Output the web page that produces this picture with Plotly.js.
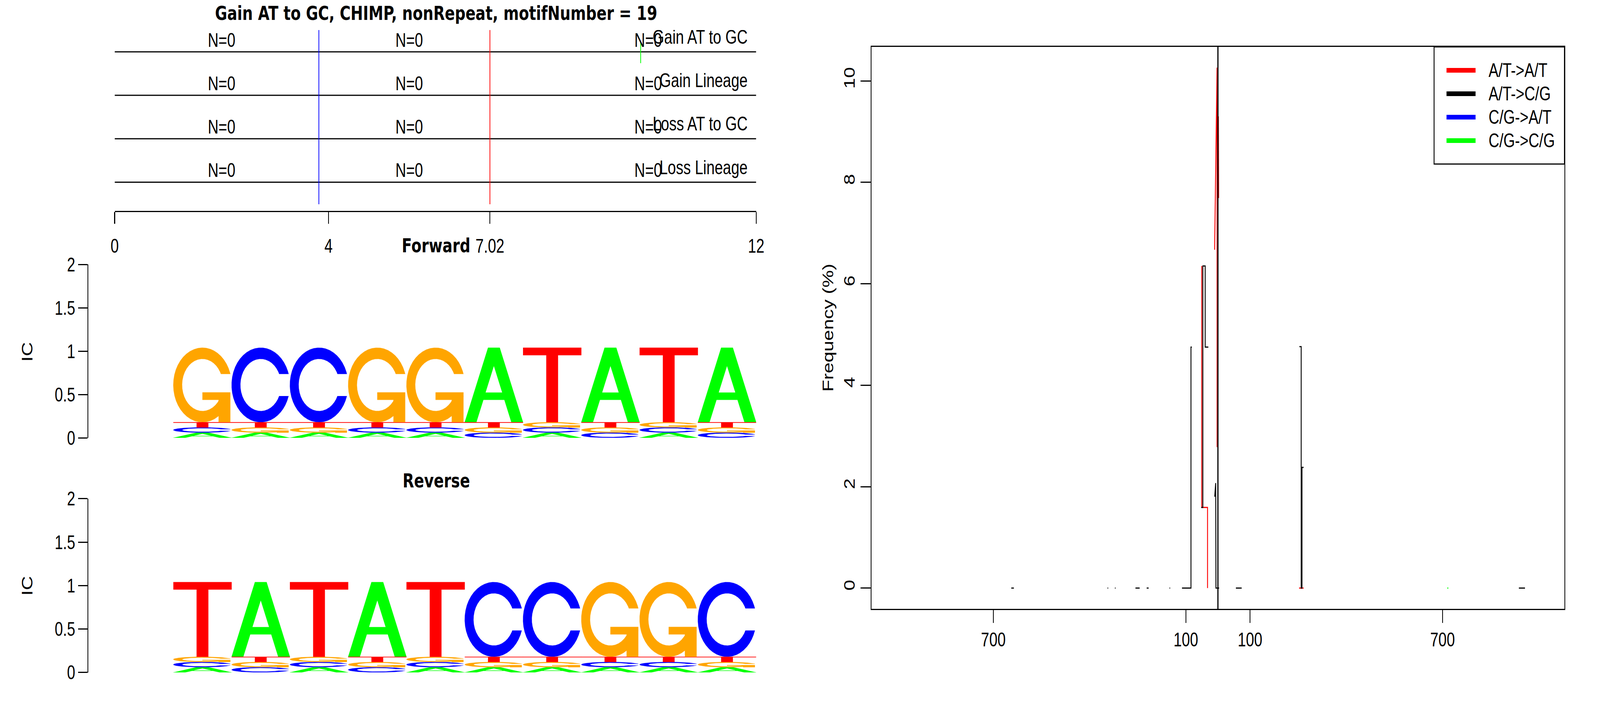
<!DOCTYPE html>
<html>
<head>
<meta charset="utf-8">
<script src="https://cdn.plot.ly/plotly-3.0.1.min.js"></script>
<style>
  html, body { margin: 0; padding: 0; background: #fff; overflow: hidden; }
  #wrap { position: relative; overflow: hidden; }
  #chart { width: 5400px; height: 1800px; transform-origin: 0 0; }
</style>
</head>
<body>
<div id="wrap"><div id="chart"></div></div>
<script>
var W = 5400, H = 1800;
function px(X) { return X / W; }
function py(Y) { return 1 - Y / H; }

// the window we get can be smaller than 5400x1800, so stretch the drawing onto it
var fx = Math.min(1, (window.innerWidth || W) / W);
var fy = Math.min(1, (window.innerHeight || H) / H);
document.getElementById('wrap').style.width = (W * fx) + 'px';
document.getElementById('wrap').style.height = (H * fy) + 'px';
document.getElementById('chart').style.transform = 'scale(' + fx + ',' + fy + ')';

// ---- top panel: event rows ----
var rowY = [1, 2, 3, 4];
var rowNames = ['Loss Lineage', 'Loss AT to GC', 'Gain Lineage', 'Gain AT to GC'];
var nLabelX = [2.0, 5.51, 9.98];
var nLabel = 'N=0';
var blueX = 3.82;
var redX = 7.02;
var greenX = 9.84;
var greenY = [3.74, 4.22];
var topTickVals = [0, 4, 7.02, 12];
var topTickText = ['0', '4', '7.02', '12'];

// ---- sequence logos (letter heights in bits) ----
var logoPos = [1, 2, 3, 4, 5, 6, 7, 8, 9, 10];
var fwdA = [0.06, 0.06, 0.06, 0.06, 0.06, 0.86, 0.06, 0.86, 0.06, 0.86];
var fwdC = [0.06, 0.86, 0.86, 0.06, 0.06, 0.06, 0.06, 0.06, 0.06, 0.06];
var fwdG = [0.86, 0.06, 0.06, 0.86, 0.86, 0.06, 0.06, 0.06, 0.06, 0.06];
var fwdT = [0.06, 0.06, 0.06, 0.06, 0.06, 0.06, 0.86, 0.06, 0.86, 0.06];
var revA = [0.06, 0.86, 0.06, 0.86, 0.06, 0.06, 0.06, 0.06, 0.06, 0.06];
var revC = [0.06, 0.06, 0.06, 0.06, 0.06, 0.86, 0.86, 0.06, 0.06, 0.86];
var revG = [0.06, 0.06, 0.06, 0.06, 0.06, 0.06, 0.06, 0.86, 0.86, 0.06];
var revT = [0.86, 0.06, 0.86, 0.06, 0.86, 0.06, 0.06, 0.06, 0.06, 0.06];
var icTicks = [0, 0.5, 1, 1.5, 2];

// ---- right panel: frequency vs distance ----
var atatX = [-50.5, -50.5, -32.4, -32.4, null, -10.3, -2.8, -2.6, null, 1.5, 2.3, null, 253, 267];
var atatY = [6.35, 1.59, 1.59, 0, null, 6.67, 10.26, 2.78, null, 9.3, 7.69, null, 0, 0];
var atcgX = [-644, -636, null, -344, -342, null, -321, -319, null, -257, -244, null, -222, -216, null,
             -151, -149, null, -112, -84, -84, -81.5, null, -52, -47, -47, -39.7, -39.7, -29.9, null,
             -10, -7, -6.2, 3.7, null, 56, 74, null, 254, 259.5, 259.5, 262, 262, 267, null, 938, 957];
var atcgY = [0, 0, null, 0, 0, null, 0, 0, null, 0, 0, null, 0, 0, null,
             0, 0, null, 0, 0, 4.75, 4.75, null, 1.59, 1.59, 6.35, 6.35, 4.75, 4.75, null,
             1.8, 2.07, 0, 0, null, 0, 0, null, 4.76, 4.76, 0, 0, 2.38, 2.38, null, 0, 0];
var cgatX = [];
var cgatY = [];
var cgcgX = [715, 718];
var cgcgY = [0, 0];
var seriesNames = ['A/T->A/T', 'A/T->C/G', 'C/G->A/T', 'C/G->C/G'];
var seriesColors = ['#ff0000', '#000000', '#0000ff', '#00ff00'];
var distTickVals = [-700, -100, 100, 700];
var distTickText = ['700', '100', '100', '700'];
var freqTicks = [0, 2, 4, 6, 8, 10];

var FONT = 'Liberation Sans, Arial, sans-serif';
var BOLD = 'DejaVu Sans, sans-serif';
var letterColor = { A: '#00ff00', C: '#0000ff', G: '#ffa500', T: '#ff0000' };

// glyph outlines in a unit box (seqLogo style)
function rev(a) { return a.slice().reverse(); }
function cOutline() {
  var n = 100, a1 = [], a2 = [], i;
  for (i = 0; i < n; i++) {
    a1.push(0.3 + Math.PI / 2 + (Math.PI / 2 - 0.3) * i / (n - 1));
    a2.push(Math.PI + 0.5 * Math.PI * i / (n - 1));
  }
  var xl1 = a1.map(function (a) { return 0.5 + 0.5 * Math.sin(a); });
  var yl1 = a1.map(function (a) { return 0.5 + 0.5 * Math.cos(a); });
  var xl2 = a2.map(function (a) { return 0.5 + 0.5 * Math.sin(a); });
  var yl2 = a2.map(function (a) { return 0.5 + 0.5 * Math.cos(a); });
  var xl = xl1.concat(xl2), yl = yl1.concat(yl2);
  var x = xl.concat(rev(xl));
  var y = yl.concat(rev(yl).map(function (v) { return 1 - v; }));
  var maxY1 = Math.max.apply(null, yl1);
  var xi1 = [], yi1 = [];
  a1.forEach(function (a) {
    var yy = 0.5 + 0.35 * Math.cos(a);
    if (yy <= maxY1) { xi1.push(0.5 + 0.35 * Math.sin(a)); yi1.push(yy); }
  });
  yi1[0] = maxY1;
  var xi = xi1.concat(a2.map(function (a) { return 0.5 + 0.35 * Math.sin(a); }));
  var yi = yi1.concat(a2.map(function (a) { return 0.5 + 0.35 * Math.cos(a); }));
  var x1 = xi.concat(rev(xi));
  var y1 = yi.concat(rev(yi).map(function (v) { return 1 - v; }));
  return { x: x.concat(rev(x1)), y: y.concat(rev(y1)), r1: Math.max.apply(null, xl1) };
}
var C_SHAPE = cOutline();

// body: main outline; extra: G crossbar (own trace so overlaps don't cancel); hole: white
function glyph(letter) {
  if (letter === 'A') {
    return {
      body: [[0, 0.4, 0.6, 1, 0.8, 0.68, 0.32, 0.2, 0], [0, 1, 1, 0, 0, 0.3, 0.3, 0, 0]],
      hole: [[0.36, 0.5, 0.64, 0.36], [0.4, 0.75, 0.4, 0.4]]
    };
  }
  if (letter === 'T') {
    return { body: [[0, 1, 1, 0.6, 0.6, 0.4, 0.4, 0], [1, 1, 0.9, 0.9, 0, 0, 0.9, 0.9]] };
  }
  if (letter === 'C') {
    return { body: [C_SHAPE.x, C_SHAPE.y] };
  }
  var r1 = C_SHAPE.r1;
  return {
    body: [C_SHAPE.x, C_SHAPE.y],
    extra: [[r1, 0.5, 0.5, r1 - 0.2, r1 - 0.2, r1, r1], [0.4, 0.4, 0.3, 0.3, 0, 0, 0.4]]
  };
}

function logoTraces(hA, hC, hG, hT, xa, ya) {
  var acc = { A: { x: [], y: [] }, C: { x: [], y: [] }, G: { x: [], y: [] }, T: { x: [], y: [] } };
  var bars = { x: [], y: [] }, holes = { x: [], y: [] };
  function add(target, pl, x0, base, h) {
    pl[0].forEach(function (u, j) {
      target.x.push(x0 + u);
      target.y.push(base + h * pl[1][j]);
    });
    target.x.push(null); target.y.push(null);
  }
  logoPos.forEach(function (p, i) {
    var col = [['A', hA[i]], ['C', hC[i]], ['G', hG[i]], ['T', hT[i]]];
    // stable sort by height, ties stay alphabetical
    col = col.map(function (d, k) { return [d[0], d[1], k]; })
             .sort(function (a, b) { return a[1] - b[1] || a[2] - b[2]; });
    var base = 0, x0 = p - 1;
    col.forEach(function (d) {
      var g = glyph(d[0]), h = d[1];
      add(acc[d[0]], g.body, x0, base, h);
      if (g.extra) add(bars, g.extra, x0, base, h);
      if (g.hole) add(holes, g.hole, x0, base, h);
      base += h;
    });
  });
  function poly(x, y, c) {
    return {
      x: x, y: y, xaxis: xa, yaxis: ya, type: 'scatter', mode: 'lines',
      fill: 'toself', fillcolor: c, line: { color: c, width: 0.5 },
      hoverinfo: 'skip', showlegend: false
    };
  }
  var out = ['A', 'C', 'G', 'T'].map(function (L) { return poly(acc[L].x, acc[L].y, letterColor[L]); });
  out.push(poly(bars.x, bars.y, letterColor.G));
  out.push(poly(holes.x, holes.y, '#ffffff'));
  return out;
}

var traces = [];

// top panel rows
rowY.forEach(function (r) {
  traces.push({
    x: [0, 12], y: [r, r], xaxis: 'x', yaxis: 'y', type: 'scatter', mode: 'lines',
    line: { color: '#000', width: 3 }, hoverinfo: 'skip', showlegend: false
  });
});
traces.push({
  x: [blueX, blueX], y: [0.491, 4.504], xaxis: 'x', yaxis: 'y', mode: 'lines',
  line: { color: '#0000ff', width: 2.5 }, hoverinfo: 'skip', showlegend: false
});
traces.push({
  x: [redX, redX], y: [0.491, 4.504], xaxis: 'x', yaxis: 'y', mode: 'lines',
  line: { color: '#ff0000', width: 2.5 }, hoverinfo: 'skip', showlegend: false
});
traces.push({
  x: [greenX, greenX], y: greenY, xaxis: 'x', yaxis: 'y', mode: 'lines',
  line: { color: '#00ff00', width: 2.5 }, hoverinfo: 'skip', showlegend: false
});
var nx = [], ny = [], nt = [];
rowY.forEach(function (r) {
  nLabelX.forEach(function (x) { nx.push(x); ny.push(r + 0.23); nt.push(nLabel); });
});
traces.push({
  x: nx, y: ny, text: nt, xaxis: 'x', yaxis: 'y', mode: 'text', textposition: 'middle center',
  textfont: { family: FONT, size: 50, color: '#000' }, hoverinfo: 'skip', showlegend: false
});
traces.push({
  x: rowY.map(function () { return 11.84; }), y: rowY.map(function (r) { return r + 0.3; }),
  text: rowNames, xaxis: 'x', yaxis: 'y', mode: 'text', textposition: 'middle left',
  textfont: { family: FONT, size: 50, color: '#000' }, hoverinfo: 'skip', showlegend: false
});

// logos
traces = traces.concat(logoTraces(fwdA, fwdC, fwdG, fwdT, 'x2', 'y2'));
traces = traces.concat(logoTraces(revA, revC, revG, revT, 'x3', 'y3'));

// right panel
var sx = [atatX, atcgX, cgatX, cgcgX], sy = [atatY, atcgY, cgatY, cgcgY];
seriesNames.forEach(function (n, i) {
  traces.push({
    x: sx[i], y: sy[i], xaxis: 'x4', yaxis: 'y4', type: 'scatter', mode: 'lines',
    line: { color: seriesColors[i], width: 3 }, name: n, showlegend: false, hoverinfo: 'skip'
  });
});
traces.push({
  x: [0, 0], y: [-0.41, 10.67], xaxis: 'x4', yaxis: 'y4', mode: 'lines',
  line: { color: '#000', width: 4 }, showlegend: false, hoverinfo: 'skip'
});

// legend box drawn by hand (R style: long thick swatches, wide padding)
var legX0 = 4840, legX1 = 5280, legY0 = 120, legY1 = 420;
var legRowY = [180, 240, 300, 360];
var shapes = [{
  type: 'rect', xref: 'paper', yref: 'paper', x0: px(legX0), x1: px(legX1), y0: py(legY1), y1: py(legY0),
  line: { color: '#000', width: 3 }, fillcolor: '#fff', layer: 'above'
}];
var legendNotes = [];
seriesNames.forEach(function (n, i) {
  shapes.push({
    type: 'line', xref: 'paper', yref: 'paper', x0: px(4882), x1: px(4980),
    y0: py(legRowY[i]), y1: py(legRowY[i]), line: { color: seriesColors[i], width: 12 }, layer: 'above'
  });
  legendNotes.push({
    text: n, x: px(5022), y: py(legRowY[i]), xref: 'paper', yref: 'paper', showarrow: false,
    xanchor: 'left', yanchor: 'middle', font: { family: FONT, size: 50, color: '#000' }
  });
});

var tickFont = { family: FONT, size: 50, color: '#000' };
var layout = {
  width: W, height: H,
  margin: { l: 0, r: 0, t: 0, b: 0 },
  paper_bgcolor: '#fff', plot_bgcolor: 'rgba(0,0,0,0)',
  font: { family: FONT, size: 50, color: '#000' },
  title: {
    text: '<b>Gain AT to GC, CHIMP, nonRepeat, motifNumber = 19</b>',
    font: { family: BOLD, size: 50, color: '#000' },
    x: px(1472), y: py(34), xref: 'paper', yref: 'paper', xanchor: 'center', yanchor: 'middle'
  },
  showlegend: false,
  xaxis: {
    domain: [px(387), px(2552)], range: [0, 12], anchor: 'y',
    showline: true, linecolor: '#000', linewidth: 3, ticks: 'outside', ticklen: 30, tickwidth: 3,
    tickcolor: '#000', tickvals: topTickVals, ticktext: topTickText, tickfont: tickFont,
    ticklabelstandoff: 14, showgrid: false, zeroline: false
  },
  yaxis: { domain: [py(540), py(76.7)], range: [0.338, 4.504], anchor: 'x', visible: false },
  xaxis2: { domain: [px(298), px(2552)], range: [-1.459, 10], anchor: 'y2', visible: false },
  yaxis2: {
    domain: [py(1121), py(677.4)], range: [0, 2], anchor: 'x2',
    showline: true, linecolor: '#000', linewidth: 3, ticks: 'outside', ticklen: 31, tickwidth: 3,
    tickcolor: '#000', tickvals: icTicks, ticktext: icTicks.map(String), tickfont: tickFont,
    showgrid: false, zeroline: false
  },
  xaxis3: { domain: [px(298), px(2552)], range: [-1.459, 10], anchor: 'y3', visible: false },
  yaxis3: {
    domain: [py(1721.7), py(1276.9)], range: [0, 2], anchor: 'x3',
    showline: true, linecolor: '#000', linewidth: 3, ticks: 'outside', ticklen: 31, tickwidth: 3,
    tickcolor: '#000', tickvals: icTicks, ticktext: icTicks.map(String), tickfont: tickFont,
    showgrid: false, zeroline: false
  },
  xaxis4: {
    domain: [px(2941), px(5280)], range: [-1080, 1080], anchor: 'y4',
    showline: true, mirror: true, linecolor: '#000', linewidth: 3, ticks: 'outside', ticklen: 33,
    tickwidth: 3, tickcolor: '#000', tickvals: distTickVals, ticktext: distTickText, tickfont: tickFont,
    showgrid: false, zeroline: false
  },
  yaxis4: {
    domain: [py(1559), py(120)], range: [-0.41, 10.67], anchor: 'x4',
    showline: true, mirror: true, linecolor: '#000', linewidth: 3, ticks: 'outside', ticklen: 34,
    tickwidth: 3, tickcolor: '#000', tickvals: freqTicks, ticktext: freqTicks.map(String),
    tickangle: -90, tickfont: tickFont, showgrid: false, zeroline: false
  },
  shapes: shapes,
  annotations: [
    { text: '<b>Forward</b>', x: px(1472), y: py(629), xref: 'paper', yref: 'paper',
      showarrow: false, font: { family: BOLD, size: 50 }, xanchor: 'center', yanchor: 'middle' },
    { text: '<b>Reverse</b>', x: px(1472), y: py(1231), xref: 'paper', yref: 'paper',
      showarrow: false, font: { family: BOLD, size: 50 }, xanchor: 'center', yanchor: 'middle' },
    { text: 'IC', x: px(92), y: py(901), xref: 'paper', yref: 'paper', textangle: -90,
      showarrow: false, font: { family: FONT, size: 50 }, xanchor: 'center', yanchor: 'middle' },
    { text: 'IC', x: px(92), y: py(1500), xref: 'paper', yref: 'paper', textangle: -90,
      showarrow: false, font: { family: FONT, size: 50 }, xanchor: 'center', yanchor: 'middle' },
    { text: 'Frequency (%)', x: px(2795), y: py(839), xref: 'paper', yref: 'paper', textangle: -90,
      showarrow: false, font: { family: FONT, size: 50 }, xanchor: 'center', yanchor: 'middle' }
  ].concat(legendNotes)
};

Plotly.newPlot('chart', traces, layout, { staticPlot: true });
</script>
</body>
</html>
